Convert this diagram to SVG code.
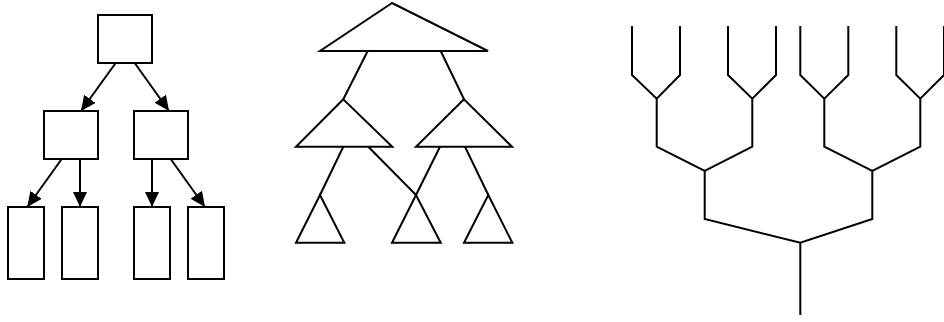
<svg xmlns="http://www.w3.org/2000/svg" width="944" height="322" viewBox="0 0 944 322">
<style>
.box{fill:#fff;stroke:#000;stroke-width:2}
.tri{fill:#fff;stroke:#000;stroke-width:2;stroke-linejoin:miter}
.edge{fill:none;stroke:#000;stroke-width:2}
.arrow{fill:none;stroke:#000;stroke-width:2;marker-end:url(#ah)}
</style>
<defs>
<marker id="ah" markerUnits="userSpaceOnUse" markerWidth="16" markerHeight="14" refX="15" refY="7" orient="auto">
<path d="M0,0 L15,7 L0,14 Z" fill="#000"/>
</marker>
</defs>
<rect width="944" height="322" fill="#fff"/>
<!-- Panel 1: box tree -->
<g id="p1-root"><rect class="box" x="98" y="15" width="54" height="48"/></g>
<g id="p1-l"><rect class="box" x="44" y="111" width="54" height="48"/></g>
<g id="p1-r"><rect class="box" x="134" y="111" width="54" height="48"/></g>
<g id="p1-ll"><rect class="box" x="8" y="207" width="36" height="72"/></g>
<g id="p1-lr"><rect class="box" x="62" y="207" width="36" height="72"/></g>
<g id="p1-rl"><rect class="box" x="134" y="207" width="36" height="72"/></g>
<g id="p1-rr"><rect class="box" x="188" y="207" width="36" height="72"/></g>
<g id="p1-connectors">
<line class="arrow" x1="115.7" y1="63" x2="81" y2="111"/>
<line class="arrow" x1="134.7" y1="63" x2="169" y2="111"/>
<line class="arrow" x1="61.7" y1="159" x2="27.3" y2="207"/>
<line class="arrow" x1="80" y1="159" x2="80" y2="207"/>
<line class="arrow" x1="152" y1="159" x2="152" y2="207"/>
<line class="arrow" x1="170.7" y1="159" x2="205" y2="207"/>
</g>
<!-- Panel 2: triangle tree -->
<g id="p2-root"><polygon class="tri" points="392,3 320,51 488,51"/></g>
<g id="p2-l"><polygon class="tri" points="343.3,99.3 296,146.7 392.3,146.7"/></g>
<g id="p2-r"><polygon class="tri" points="464,99.3 416,146.7 512,146.7"/></g>
<g id="p2-a"><polygon class="tri" points="320,195 296,242.7 344.3,242.7"/></g>
<g id="p2-b"><polygon class="tri" points="416,195 392,242.7 440.7,242.7"/></g>
<g id="p2-c"><polygon class="tri" points="488.3,195 464,242.7 512.3,242.7"/></g>
<g id="p2-connectors">
<line class="edge" x1="367.7" y1="51" x2="343.3" y2="99.3"/>
<line class="edge" x1="440.7" y1="51" x2="464" y2="99.3"/>
<line class="edge" x1="343.3" y1="146.7" x2="320" y2="195"/>
<line class="edge" x1="368.3" y1="146.7" x2="416" y2="195"/>
<line class="edge" x1="440" y1="146.7" x2="416" y2="195"/>
<line class="edge" x1="465" y1="146.7" x2="488.3" y2="195"/>
</g>
<!-- Panel 3: branching tree -->
<g id="p3-tree">
<path class="edge" d="M632,26 V75 L656.7,98.7 L680,75 V26"/>
<path class="edge" d="M728,26 V75 L752.3,98.7 L776,75 V26"/>
<path class="edge" d="M800.3,26 V75 L824.3,98.7 L848.3,75 V26"/>
<path class="edge" d="M896.3,26 V75 L920.3,98.7 L944,75 V26"/>
<path class="edge" d="M656.7,98.7 V146.7 L704.7,171 L752.3,146.7 V98.7"/>
<path class="edge" d="M824.3,98.7 V146.7 L872.3,171 L920.3,146.7 V98.7"/>
<path class="edge" d="M704.7,171 V219 L800.3,242.7 L872.3,219 V171"/>
<path class="edge" d="M800.3,242.7 V315"/>
</g>
</svg>
